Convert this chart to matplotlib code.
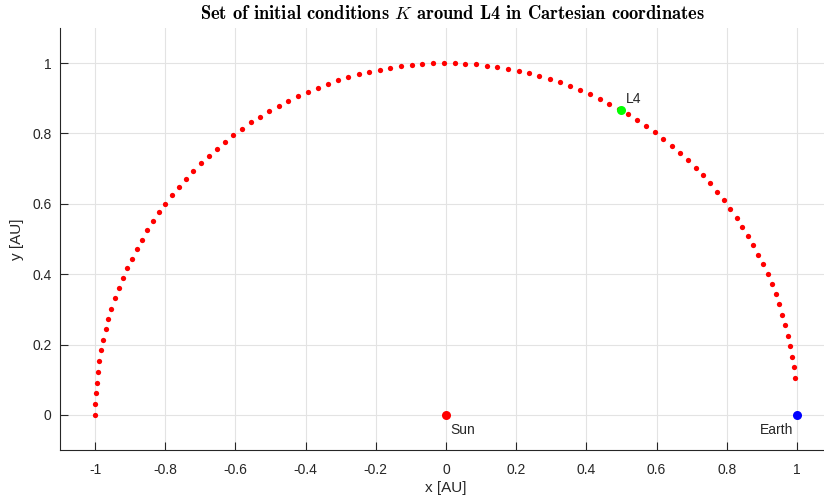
import numpy as np
import matplotlib
matplotlib.use('Agg')
import matplotlib.pyplot as plt
from matplotlib.ticker import FuncFormatter

# angles of the initial conditions on the unit circle (deg)
theta_deg = [6.00, 7.76, 9.52, 11.27, 13.03, 14.79, 16.55, 18.30, 20.06, 21.82,
             23.58, 25.33, 27.09, 28.85, 30.61, 32.36, 34.12, 35.88, 37.64, 39.39,
             41.15, 42.91, 44.67, 46.42, 48.18, 49.94, 51.70, 53.45, 55.21, 56.97,
             58.73, 60.48, 62.24, 64.00, 65.76, 67.52, 69.27, 71.03, 72.79, 74.55,
             76.30, 78.06, 79.82, 81.58, 83.33, 85.09, 86.85, 88.61, 90.36, 92.12,
             93.88, 95.64, 97.39, 99.15, 100.91, 102.67, 104.42, 106.18, 107.94, 109.70,
             111.45, 113.21, 114.97, 116.73, 118.48, 120.24, 122.00, 123.76, 125.52, 127.27,
             129.03, 130.79, 132.55, 134.30, 136.06, 137.82, 139.58, 141.33, 143.09, 144.85,
             146.61, 148.36, 150.12, 151.88, 153.64, 155.39, 157.15, 158.91, 160.67, 162.42,
             164.18, 165.94, 167.70, 169.45, 171.21, 172.97, 174.73, 176.48, 178.24, 180.00]

# special bodies
body_names = ['Sun', 'Earth', 'L4']
body_x = [0.0, 1.0, 0.5]
body_y = [0.0, 0.0, 0.866]
body_colors = ['#ff0000', '#0000ff', '#00ff00']

x_ticks = [-1, -0.8, -0.6, -0.4, -0.2, 0, 0.2, 0.4, 0.6, 0.8, 1]
y_ticks = [0, 0.2, 0.4, 0.6, 0.8, 1]

plt.rcParams['mathtext.fontset'] = 'cm'
plt.rcParams['font.family'] = ['Liberation Sans', 'DejaVu Sans']

fig = plt.figure(figsize=(8.24, 5.01), dpi=100)
ax = fig.add_axes([60 / 824, 51 / 501, 772 / 824, 422 / 501])

th = np.deg2rad(theta_deg)
ax.plot(np.cos(th), np.sin(th), 'o', color='#ff0000', markersize=3.8,
        markeredgewidth=0, zorder=3)

for name, bx, by, c in zip(body_names, body_x, body_y, body_colors):
    ax.plot(bx, by, 'o', color=c, markersize=6.5, markeredgewidth=0, zorder=4)

ax.text(0.012, -0.043, 'Sun', fontsize=10, va='center', ha='left', color='#262626')
ax.text(0.99, -0.043, 'Earth', fontsize=10, va='center', ha='right', color='#262626')
ax.text(0.513, 0.898, 'L4', fontsize=10, va='center', ha='left', color='#262626')

ax.set_xlim(-1.1, 1.1)
ax.set_ylim(-0.1, 1.1)
ax.set_xticks(x_ticks)
ax.set_yticks(y_ticks)
fmt = FuncFormatter(lambda v, p: '%g' % v)
ax.xaxis.set_major_formatter(fmt)
ax.yaxis.set_major_formatter(fmt)

ax.grid(True, color='#e3e3e3', linewidth=0.8, zorder=0)
ax.set_axisbelow(True)
ax.spines['top'].set_visible(False)
ax.spines['right'].set_visible(False)
for s in ['left', 'bottom']:
    ax.spines[s].set_color('#262626')
    ax.spines[s].set_linewidth(0.8)
ax.tick_params(direction='in', length=5.8, width=0.8, color='#262626',
               labelcolor='#262626', labelsize=10)
ax.tick_params(axis='x', pad=9)
ax.tick_params(axis='y', pad=6)

ax.set_xlabel('x [AU]', fontsize=11, color='#262626', labelpad=3)
ax.set_ylabel('y [AU]', fontsize=11, color='#262626', labelpad=6)

fig.text(452 / 824, 1 - 14 / 501, r'Set of initial conditions $K$ around L4 in Cartesian coordinates',
         family='cmb10', fontsize=13.3, ha='center', va='center', color='#000000')

fig.savefig('out.png', dpi=100)
